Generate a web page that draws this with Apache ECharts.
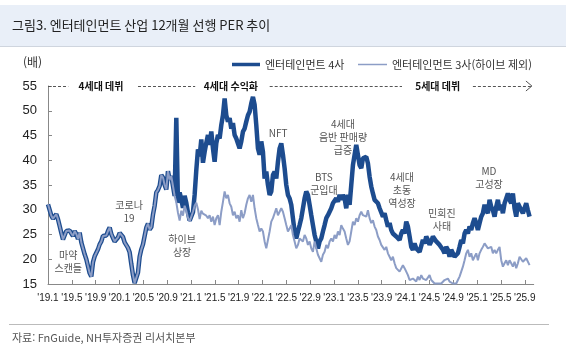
<!DOCTYPE html>
<html lang="ko">
<head>
<meta charset="UTF-8">
<title>엔터테인먼트 산업 12개월 선행 PER 추이</title>
<script src="https://cdn.jsdelivr.net/npm/echarts@6/dist/echarts.min.js"></script>
<style>
  html, body { margin: 0; padding: 0; background: #fff; }
  #main { width: 566px; height: 353px; }
</style>
</head>
<body>
<div id="main"></div>
<script>
  // 관측 간격 (월 단위, 0 = 2019년 1월, 약 8.5일)
  var stepMonths = 0.2796;

  // x축 눈금 라벨 (4개월 간격)
  var tickLabels = ["'19.1", "'19.5", "'19.9", "'20.1", "'20.5", "'20.9", "'21.1",
    "'21.5", "'21.9", "'22.1", "'22.5", "'22.9", "'23.1", "'23.5", "'23.9",
    "'24.1", "'24.5", "'24.9", "'25.1", "'25.5", "'25.9"];

  // 하이브 상장 이전: 4사 = 3사
  var shared = [
    31.1, 30.8, 28.8, 28.2, 28.0, 29.1, 28.1, 26.7, 25.3, 24.0,
    23.6, 25.7, 26.0, 25.8, 25.2, 24.7, 25.7, 25.1, 24.1, 25.4,
    23.4, 22.2, 21.0, 20.0, 18.6, 17.2, 16.5, 19.4, 20.6, 21.3,
    22.0, 23.0, 23.6, 24.7, 24.3, 24.8, 25.7, 26.4, 25.1, 24.3,
    23.6, 23.4, 24.4, 25.3, 25.2, 24.5, 23.4, 23.0, 22.3, 21.4,
    19.0, 16.8, 15.2, 15.6, 17.3, 20.5, 22.0, 23.0, 23.4, 26.4,
    27.2, 26.0, 26.5, 29.0, 30.8, 33.5, 34.0, 34.8, 37.0, 36.5,
    35.0, 34.1, 37.8, 36.1, 36.8, 34.8, 32.8
  ];

  // 하이브 상장 이후 - 엔터테인먼트 4사
  var ent4After = [
    48.6, 31.4, 33.5, 32.1, 30.4, 32.8, 31.4, 29.4, 27.8, 27.6,
    29.5, 33.0, 38.0, 42.2, 40.8, 44.2, 39.5,
    41.7, 43.5, 45.1, 43.1, 45.8, 42.4, 39.7, 43.4, 45.1, 44.4,
    47.1, 49.1, 52.5, 49.1, 47.8, 48.5, 46.4, 47.5, 45.1, 44.4,
    43.4, 42.4, 43.8, 45.8, 46.4, 47.8, 49.1, 49.8, 51.5, 52.8,
    51.2, 47.1, 42.4, 41.1, 43.8, 41.7, 36.3, 37.7, 35.0, 33.0,
    33.7, 37.0, 37.7, 36.3, 39.7, 42.4, 43.4, 41.1, 38.4, 35.0,
    33.0, 32.3, 31.0, 28.3, 25.6, 24.2, 25.6, 26.9, 28.3, 30.3,
    32.3, 33.7, 33.0, 31.0, 28.9, 26.9, 24.9, 23.6, 22.2, 23.6,
    24.2, 25.6, 26.9, 28.3, 28.9, 29.6, 30.3, 31.3, 31.6, 32.3,
    31.6, 33.0, 32.0, 33.0, 32.3, 30.3, 33.0, 31.0, 35.0, 39.0,
    41.1, 43.1, 42.7, 39.0, 38.4, 40.4,
    40.0, 40.7, 39.4, 36.7, 34.7, 33.3, 32.0, 32.3, 31.3, 30.3,
    29.9, 28.6, 29.3, 27.9, 26.6, 27.3, 25.9, 25.2, 25.6, 24.6,
    24.9, 23.9, 25.2, 25.9, 25.2, 27.6, 26.6, 24.6, 22.5, 21.9,
    23.2, 22.2, 22.5, 21.5, 21.9, 23.9, 23.2, 24.6, 23.9, 22.9,
    23.6, 24.6, 24.2, 23.6, 23.9, 22.9, 22.5, 21.9, 21.2, 22.5,
    21.9, 20.5, 21.9, 21.2, 20.5, 20.2, 21.2, 22.5, 23.9, 23.2,
    25.2, 25.9, 25.2, 26.6, 25.9, 27.3, 28.3, 27.3, 25.9, 27.3,
    28.6, 29.3, 31.0, 29.9, 29.3, 32.0, 30.6, 29.9, 28.6, 30.6,
    32.0, 29.9, 31.0, 29.3, 31.3, 32.3, 33.3, 32.0, 31.3, 33.3,
    30.3, 28.6, 31.3, 30.6, 29.9, 29.3, 30.3, 31.3, 29.9, 28.6
  ];

  // 하이브 상장 이후 - 엔터테인먼트 3사(하이브 제외)
  var ent3After = [
    31.5, 29.4, 27.8, 29.8, 28.8, 30.8, 29.8, 28.4, 27.6, 28.0,
    29.6, 30.8, 31.4, 30.1, 28.1, 29.8, 29.2,
    29.6, 28.8, 28.3, 28.9, 27.6, 28.6, 26.9, 28.3, 28.9, 26.9,
    29.6, 31.6, 33.7, 32.3, 33.0, 31.3, 30.6, 28.9, 29.6, 28.3,
    28.9, 27.6, 29.9, 28.3, 29.3, 31.0, 32.3, 33.0, 31.6, 33.0,
    30.3, 28.3, 26.9, 25.6, 26.2, 25.6, 23.6, 22.2, 21.8, 25.6,
    27.6, 28.3, 29.3, 30.3, 28.9, 29.6, 30.3, 29.6, 28.3, 26.9,
    25.6, 26.2, 26.9, 24.9, 23.6, 22.2, 22.9, 24.2, 24.6, 23.6,
    24.9, 24.2, 22.9, 23.6, 22.2, 21.5, 23.6, 22.2, 20.9, 20.2,
    19.5, 20.9, 21.5, 22.9, 22.2, 23.6, 24.2, 23.6, 24.9, 24.2,
    25.6, 24.9, 26.9, 26.2, 25.6, 24.2, 22.9, 23.6, 25.6, 27.6,
    26.9, 28.3, 27.6, 28.9, 29.6, 28.9,
    28.9, 28.6, 29.9, 28.3, 27.3, 27.9, 26.6, 25.9, 24.6, 23.9,
    22.9, 23.2, 21.9, 22.5, 21.2, 20.5, 19.8, 20.5, 19.2, 18.2,
    18.5, 17.5, 17.8, 18.8, 18.2, 18.5, 16.8, 15.8, 15.5, 16.1,
    15.8, 15.5, 16.5, 15.8, 16.8, 16.1, 16.5, 15.8, 16.1, 16.8,
    15.8, 15.5, 15.1, 15.5, 15.1, 15.5, 15.1, 15.5, 15.8, 15.5,
    16.1, 15.5, 15.1, 15.1, 15.5, 15.1, 15.8, 16.5, 17.5, 18.5,
    19.8, 21.2, 21.9, 20.5, 21.2, 19.8, 20.5, 21.2, 19.8, 21.2,
    21.9, 22.5, 23.2, 23.6, 22.2, 21.9, 22.5, 21.2, 21.9, 21.2,
    21.9, 22.5, 19.8, 18.5, 19.2, 19.8, 18.8, 19.8, 19.2, 18.5,
    19.5, 18.2, 19.2, 20.5, 20.2, 19.5, 19.8, 20.2, 19.8, 18.8
  ];

  // 이벤트 주석 [텍스트, 월, 배수]
  var notes = [
    ['마약\n스캔들', 3.4, 19.6],
    ['코로나\n19', 13.6, 29.6],
    ['하이브\n상장', 22.5, 22.7],
    ['NFT', 38.6, 45.5],
    ['BTS\n군입대', 46.3, 35.3],
    ['4세대\n음반 판매량\n급증', 49.5, 44.7],
    ['4세대\n초동\n역성장', 59.4, 34.0],
    ['민희진\n사태', 66.1, 27.9],
    ['MD\n고성장', 74.0, 36.4]
  ];

  // 구간 표시 [텍스트, 월]
  var phases = [['4세대 데뷔', 8.9], ['4세대 수익화', 30.7], ['5세대 데뷔', 65.4]];
  var phaseDashes = [[0, 3.4], [15.1, 24.7], [37.2, 59.4], [71.3, 81.2]];

  function toPairs(vals) {
    var out = [];
    for (var i = 0; i < vals.length; i++) {
      out.push([i * stepMonths, vals[i]]);
    }
    return out;
  }

  var ent4 = toPairs(shared.concat(ent4After));
  var ent3 = toPairs(shared.concat(ent3After));

  var tickValues = [];
  for (var t = 0; t < tickLabels.length; t++) tickValues.push(t * 4);

  var numFont = "'Liberation Sans Narrow', 'Arial Narrow', 'Liberation Sans', Arial, sans-serif";
  var korFont = "'Noto Sans CJK KR', sans-serif";

  var darkBlue = '#1d4c8f';
  var lightBlue = '#8c9dc6';

  var myChart = echarts.init(document.getElementById('main'));

  var markData = notes.map(function (n) {
    return { name: n[0], coord: [n[1], n[2]] };
  });
  phases.forEach(function (p) {
    markData.push({
      name: p[0], coord: [p[1], 55],
      label: { fontWeight: 'bold', color: '#111', fontSize: 10 }
    });
  });

  var legendText = { fontSize: 11, color: '#333', fontFamily: korFont };

  var option = {
    animation: false,
    backgroundColor: '#fff',
    textStyle: { fontFamily: korFont },
    grid: { left: 48, top: 86, width: 485.7, height: 198 },
    legend: [
      {
        left: 227, top: 54, icon: 'rect',
        itemWidth: 28, itemHeight: 3.5,
        textStyle: legendText,
        data: ['엔터테인먼트 4사']
      },
      {
        left: 353, top: 54, icon: 'rect',
        itemWidth: 29, itemHeight: 1.5,
        textStyle: legendText,
        data: ['엔터테인먼트 3사(하이브 제외)']
      }
    ],
    xAxis: {
      type: 'value', min: 0, max: 81.5,
      splitLine: { show: false },
      axisLine: { lineStyle: { color: '#888', width: 1 } },
      axisTick: { inside: true, length: 4, customValues: tickValues, lineStyle: { color: '#888' } },
      axisLabel: {
        customValues: tickValues, margin: 9,
        showMinLabel: true, showMaxLabel: true, hideOverlap: false,
        fontSize: 10, color: '#222', fontFamily: numFont,
        formatter: function (v) { return tickLabels[Math.round(v / 4)] || ''; }
      }
    },
    yAxis: {
      type: 'value', min: 15, max: 55, interval: 5,
      splitLine: { show: false },
      axisLine: { show: true, lineStyle: { color: '#888', width: 1 } },
      axisTick: { show: true, inside: true, length: 4, lineStyle: { color: '#888' } },
      axisLabel: { margin: 11, fontSize: 13, color: '#222', fontFamily: numFont }
    },
    series: [
      {
        name: '엔터테인먼트 4사',
        type: 'line',
        data: ent4,
        symbol: 'none',
        lineStyle: { color: darkBlue, width: 4.5 },
        itemStyle: { color: darkBlue }
      },
      {
        name: '엔터테인먼트 3사(하이브 제외)',
        type: 'line',
        data: ent3,
        symbol: 'none',
        lineStyle: { color: lightBlue, width: 2 },
        itemStyle: { color: lightBlue },
        markPoint: {
          silent: true,
          symbol: 'circle', symbolSize: 1,
          itemStyle: { color: 'rgba(0,0,0,0)' },
          label: {
            show: true, position: 'inside', formatter: '{b}',
            color: '#555', fontSize: 10, lineHeight: 13, fontFamily: korFont
          },
          data: markData
        },
        markLine: {
          silent: true,
          symbol: 'none',
          label: { show: false },
          lineStyle: { color: '#555', width: 1, type: [3, 2] },
          data: phaseDashes.map(function (d) {
            return [{ coord: [d[0], 55] }, { coord: [d[1], 55] }];
          })
        }
      }
    ]
  };

  myChart.setOption(option);

  // 화살표 머리 및 제목/출처 장식
  var tip = myChart.convertToPixel({ gridIndex: 0 }, [phaseDashes[3][1], 55]);
  myChart.setOption({
    graphic: [
      { type: 'rect', shape: { x: 0, y: 5, width: 566, height: 41 }, style: { fill: '#e9eff8' }, z: -1 },
      { type: 'line', shape: { x1: 0, y1: 46.5, x2: 566, y2: 46.5 }, style: { stroke: '#cfd5de', lineWidth: 1 } },
      { type: 'text', x: 12, y: 25, style: { text: '그림3. 엔터테인먼트 산업 12개월 선행 PER 추이', font: '13px ' + korFont, fill: '#222', textVerticalAlign: 'middle' } },
      { type: 'text', x: 23, y: 62, style: { text: '(배)', font: '12px ' + korFont, fill: '#333', textVerticalAlign: 'middle' } },
      { type: 'polyline', shape: { points: [[tip[0] - 6, tip[1] - 5], [tip[0], tip[1]], [tip[0] - 6, tip[1] + 5]] }, style: { stroke: '#555', lineWidth: 1, fill: null } },
      { type: 'line', shape: { x1: 9, y1: 324.5, x2: 549, y2: 324.5 }, style: { stroke: '#bbb', lineWidth: 1 } },
      { type: 'text', x: 12, y: 338, style: { text: '자료: FnGuide, NH투자증권 리서치본부', font: '11px ' + korFont, fill: '#555', textVerticalAlign: 'middle' } }
    ]
  });
</script>
</body>
</html>
